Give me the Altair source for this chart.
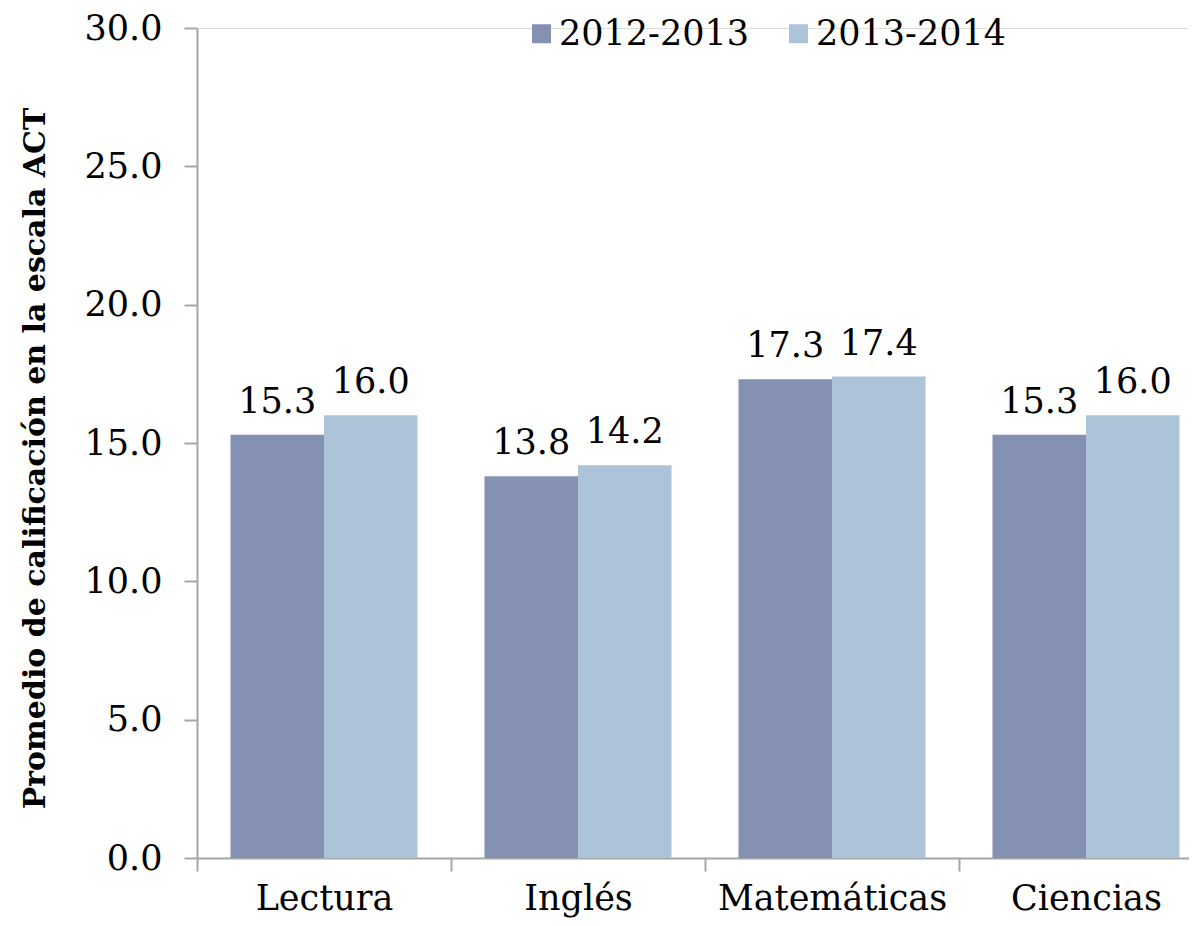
import altair as alt
import pandas as pd

categories = ["Lectura", "Inglés", "Matemáticas", "Ciencias"]
years = ["2012-2013", "2013-2014"]
values_2012_2013 = [15.3, 13.8, 17.3, 15.3]
values_2013_2014 = [16.0, 14.2, 17.4, 16.0]
y_ticks = [0, 5, 10, 15, 20, 25, 30]
colors = ["#8491B2", "#ADC4D8"]

rows = []
for i, c in enumerate(categories):
    rows.append({"Materia": c, "Año": years[0], "Valor": values_2012_2013[i]})
    rows.append({"Materia": c, "Año": years[1], "Valor": values_2013_2014[i]})
df = pd.DataFrame(rows)

FONT = "DejaVu Serif"
FS = 35
AX = "#A6A6A6"

x = alt.X(
    "Materia:N",
    sort=categories,
    scale=alt.Scale(range=[0, 1016], paddingInner=0, paddingOuter=0),
    axis=alt.Axis(
        title=None,
        labelAngle=0,
        tickBand="extent",
        grid=False,
        tickSize=13,
        labelPadding=10,
        labelLimit=0,
        labelFont=FONT,
        labelFontSize=FS,
        labelColor="#000000",
        domainColor=AX,
        tickColor=AX,
        domainWidth=2,
        tickWidth=2,
    ),
)
xo = alt.XOffset("Año:N", sort=years, scale=alt.Scale(paddingInner=0, paddingOuter=0.358))
y = alt.Y(
    "Valor:Q",
    scale=alt.Scale(domain=[0, 30], nice=False),
    axis=alt.Axis(
        title="Promedio de calificación en la escala ACT",
        values=y_ticks,
        format=".1f",
        grid=False,
        tickSize=13,
        labelPadding=22,
        labelFont=FONT,
        labelFontSize=FS,
        labelColor="#000000",
        domainColor=AX,
        tickColor=AX,
        domainWidth=2,
        tickWidth=2,
        titleFont=FONT,
        titleFontSize=30,
        titleFontWeight="bold",
        titleColor="#000000",
        titleX=-162,
        titleY=430,
        titleAngle=270,
        titleAlign="center",
        titleBaseline="middle",
        titleLimit=0,
    ),
)
color = alt.Color(
    "Año:N",
    sort=years,
    scale=alt.Scale(domain=years, range=colors),
    legend=alt.Legend(
        title=None,
        orient="none",
        direction="horizontal",
        legendX=327,
        legendY=-12,
        symbolType="square",
        symbolSize=361,
        symbolStrokeWidth=0,
        labelFont=FONT,
        labelFontSize=FS,
        labelColor="#000000",
        labelOffset=0,
        labelLimit=0,
        columnPadding=32,
        padding=0,
    ),
)

bars = alt.Chart(df).mark_bar(size=93.5).encode(x=x, xOffset=xo, y=y, color=color)
labels = alt.Chart(df).mark_text(
    font=FONT, fontSize=FS, color="#000000", align="center", baseline="alphabetic", dy=-22
).encode(x=x, xOffset=xo, y=y, text=alt.Text("Valor:Q", format=".1f"))

chart = (
    alt.layer(bars, labels)
    .properties(
        width=992,
        height=830,
        autosize=alt.AutoSizeParams(type="none"),
        padding={"left": 189, "top": 20, "right": 0, "bottom": 60},
    )
    .configure_view(stroke="white", strokeWidth=0, strokeOpacity=0)
    .configure_axis(grid=False)
    .configure(background="white")
)

chart.save("out.html", embed_options={"renderer": "svg", "actions": False})
